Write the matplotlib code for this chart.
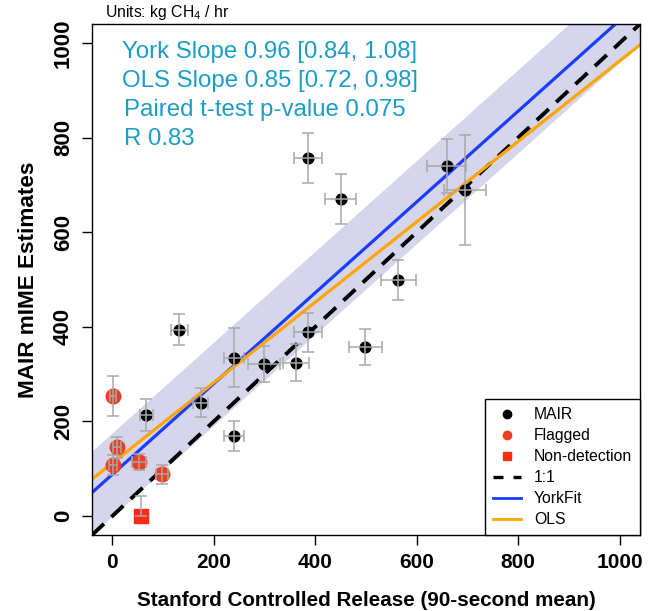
import numpy as np
import matplotlib
matplotlib.use("Agg")
import matplotlib.pyplot as plt
from matplotlib.lines import Line2D

plt.rcParams['font.family'] = ['Liberation Sans', 'DejaVu Sans']
plt.rcParams['mathtext.default'] = 'regular'

# MAIR estimates vs controlled release (kg CH4 / hr)
mair_x = [386, 450, 659, 695, 564, 499, 386, 362, 299, 240, 240, 174, 132, 67]
mair_y = [756, 670, 739, 689, 499, 358, 388, 324, 321, 335, 169, 240, 394, 213]
mair_xerr = [27, 30, 39, 42, 35, 33, 27, 25, 32, 20, 20, 14, 17, 13]
mair_yerr = [53, 52, 57, 117, 43, 38, 41, 39, 38, 63, 31, 30, 33, 34]

flag_x = [2, 9, 2, 53, 98]
flag_y = [254, 145, 108, 115, 88]
flag_xerr = [6, 8, 8, 14, 12]
flag_yerr = [42, 22, 21, 17, 21]

nondet_x = [57]
nondet_y = [0]
nondet_yerr_up = [42]

york_slope, york_int = 0.96, 88
ols_slope, ols_int = 0.85, 112
band_half = 88

stats_lines = ["York Slope 0.96 [0.84, 1.08]",
               "OLS Slope 0.85 [0.72, 0.98]",
               "Paired t-test p-value 0.075",
               "R 0.83"]

ticks = [0, 200, 400, 600, 800, 1000]

fig = plt.figure(figsize=(6.51, 6.11), dpi=100)
ax = fig.add_axes([92/651, 1-535/611, 548/651, 511/611])
ax.set_xlim(-40, 1040)
ax.set_ylim(-40, 1040)

xx = np.array([-40, 1040])
ax.fill_between(xx, york_slope*xx + york_int - band_half, york_slope*xx + york_int + band_half,
                color='#d5d6ec', lw=0, zorder=1)
ax.plot(xx, xx, color='black', lw=2.8, dashes=(4.2, 2.6), zorder=2)
ax.plot(xx, york_slope*xx + york_int, color='#1a3dff', lw=2.3, zorder=2)
ax.plot(xx, ols_slope*xx + ols_int, color='#ffa500', lw=2.3, zorder=2)

ax.scatter(mair_x, mair_y, s=60, color='black', zorder=3)
ax.scatter(flag_x, flag_y, s=110, color='#f03c21', zorder=3)
ax.scatter(nondet_x, nondet_y, s=110, marker='s', color='#ff2a10', zorder=3)

ebk = dict(fmt='none', ecolor='#a8a8a8', elinewidth=1.1, capsize=4.5, capthick=1.1, zorder=4)
ax.errorbar(mair_x, mair_y, xerr=mair_xerr, yerr=mair_yerr, **ebk)
ax.errorbar(flag_x, flag_y, xerr=flag_xerr, yerr=flag_yerr, **ebk)
ax.errorbar(nondet_x, nondet_y, yerr=[[0], nondet_yerr_up], **ebk)

for i, s in enumerate(stats_lines):
    ax.text(0.055 if i < 2 else 0.058, 0.946 - i*0.0567, s, transform=ax.transAxes,
            color='#1b9dc9', fontsize=17.3, va='center', ha='left')

ax.set_xticks(ticks)
ax.set_yticks(ticks)
ax.tick_params(direction='out', length=7, width=1, labelsize=15, pad=6)
for lab in ax.get_xticklabels() + ax.get_yticklabels():
    lab.set_fontweight('bold')
for lab in ax.get_yticklabels():
    lab.set_rotation(90)
    lab.set_va('center')
    lab.set_fontsize(16)
for sp in ax.spines.values():
    sp.set_linewidth(1)

ax.set_xlabel("Stanford Controlled Release (90-second mean)", fontsize=14.9, fontweight='bold', labelpad=14)
ax.set_ylabel("MAIR mIME Estimates", fontsize=16.2, fontweight='bold', labelpad=10)

fig.text(105/651, 1-13/611, r"Units: kg CH$_4$ / hr", fontsize=11.3, va='center', ha='left')

handles = [
    Line2D([], [], marker='o', ls='none', color='black', markersize=6),
    Line2D([], [], marker='o', ls='none', color='#f03c21', markersize=6),
    Line2D([], [], marker='s', ls='none', color='#ff2a10', markersize=6),
    Line2D([], [], color='black', lw=2.4, dashes=(3, 3)),
    Line2D([], [], color='#1a3dff', lw=2),
    Line2D([], [], color='#ffa500', lw=2),
]
labels = ["MAIR", "Flagged", "Non-detection", "1:1", "YorkFit", "OLS"]
leg = ax.legend(handles, labels, loc='lower right', bbox_to_anchor=(1, 0), borderaxespad=0,
                fancybox=False, edgecolor='black', framealpha=1, fontsize=11.3,
                handlelength=1.8, handletextpad=0.8, labelspacing=0.38, borderpad=0.5)
leg.get_frame().set_linewidth(1)
leg.set_zorder(5)

fig.savefig("out.png", dpi=100)
